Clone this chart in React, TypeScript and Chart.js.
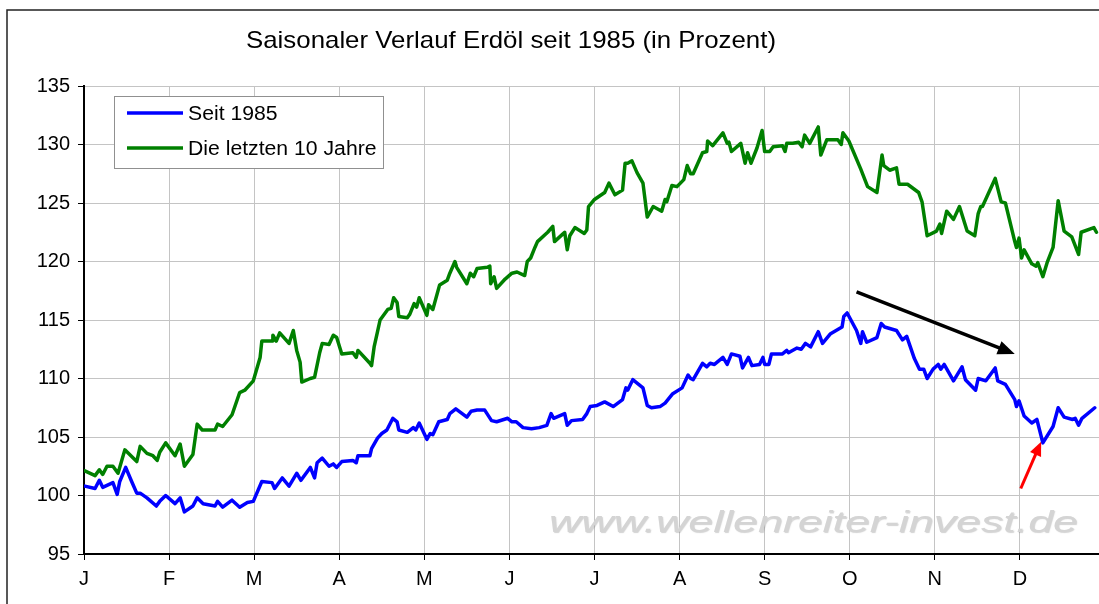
import React, { useEffect, useRef } from 'react';
import { Chart, registerables } from 'chart.js';

Chart.register(...registerables);

const chartTitle = 'Saisonaler Verlauf Erdöl seit 1985 (in Prozent)';
const watermarkText = 'www.wellenreiter-invest.de';
const monthLabels = ['J', 'F', 'M', 'A', 'M', 'J', 'J', 'A', 'S', 'O', 'N', 'D'];
const seriesNames = ['Seit 1985', 'Die letzten 10 Jahre'];
const yMin = 95;
const yMax = 135;
const yStep = 5;
const xMax = 11.93;

// x positions in months since 1 January, values in percent
const blueMonths = [
  0.01, 0.13, 0.18, 0.22, 0.34, 0.39, 0.42, 0.49, 0.56, 0.62, 0.66, 0.74, 0.85, 0.89, 0.96,
  1.07, 1.13, 1.18, 1.28, 1.33, 1.40, 1.54, 1.57, 1.63, 1.74, 1.83, 1.92, 1.99,
  2.09, 2.21, 2.24, 2.33, 2.41, 2.50, 2.55, 2.66, 2.71, 2.74, 2.80, 2.88, 2.93, 2.97,
  3.03, 3.16, 3.20, 3.22, 3.36, 3.38, 3.45, 3.50, 3.56, 3.63, 3.68, 3.70, 3.80, 3.87, 3.90, 3.94,
  4.03, 4.07, 4.10, 4.17, 4.27, 4.30, 4.37, 4.50, 4.55, 4.62, 4.71, 4.79, 4.85, 4.98,
  5.03, 5.08, 5.16, 5.26, 5.35, 5.44, 5.49, 5.52, 5.65, 5.68, 5.73, 5.86, 5.91, 5.95,
  6.03, 6.12, 6.22, 6.33, 6.37, 6.39, 6.45, 6.57, 6.62, 6.67, 6.77, 6.83, 6.92,
  7.03, 7.10, 7.13, 7.16, 7.27, 7.32, 7.36, 7.41, 7.51, 7.56, 7.61, 7.71, 7.74, 7.81, 7.85, 7.94, 7.98,
  8.00, 8.05, 8.08, 8.21, 8.26, 8.28, 8.38, 8.43, 8.48, 8.54, 8.63, 8.68, 8.77, 8.91, 8.93, 8.97,
  9.08, 9.13, 9.15, 9.20, 9.32, 9.37, 9.41, 9.55, 9.62, 9.67, 9.76, 9.82, 9.87, 9.91, 9.98,
  10.04, 10.07, 10.11, 10.22, 10.32, 10.36, 10.48, 10.51, 10.60, 10.71, 10.74, 10.83, 10.94, 10.96, 10.99,
  11.05, 11.14, 11.20, 11.27, 11.39, 11.45, 11.52, 11.62, 11.65, 11.69, 11.73, 11.88,
];
const blueValues = [
  100.8, 100.6, 101.3, 100.7, 101.1, 100.1, 101.2, 102.4, 101.2, 100.2, 100.2, 99.8, 99.1, 99.5, 100.0,
  99.3, 99.8, 98.6, 99.1, 99.8, 99.3, 99.1, 99.5, 99.0, 99.6, 99.0, 99.4, 99.5,
  101.2, 101.1, 100.6, 101.5, 100.8, 101.9, 101.3, 102.4, 101.5, 102.8, 103.2, 102.5, 102.7, 102.4,
  102.9, 103.0, 102.8, 103.4, 103.4, 104.0, 104.9, 105.3, 105.6, 106.6, 106.3, 105.6, 105.4, 105.8, 105.6, 106.2,
  104.8, 105.3, 105.2, 106.3, 106.5, 107.0, 107.4, 106.7, 107.2, 107.3, 107.3, 106.4, 106.3, 106.6,
  106.3, 106.3, 105.8, 105.7, 105.8, 106.0, 107.0, 106.6, 107.0, 106.0, 106.4, 106.5, 107.0, 107.6,
  107.7, 108.0, 107.6, 108.2, 109.2, 109.0, 109.9, 109.2, 107.7, 107.5, 107.6, 107.9, 108.7,
  109.2, 110.3, 110.0, 109.9, 111.3, 111.0, 111.3, 111.2, 111.8, 111.2, 112.1, 111.9, 110.9, 111.8, 111.1, 111.2, 111.8,
  111.2, 111.2, 112.1, 112.1, 112.4, 112.2, 112.6, 112.5, 113.0, 112.7, 114.0, 113.0, 113.8, 114.4, 115.3, 115.6,
  114.1, 113.0, 114.0, 113.1, 113.5, 114.7, 114.4, 114.1, 113.3, 113.6, 111.7, 110.8, 110.8, 110.0, 110.8,
  111.2, 110.8, 111.2, 109.8, 111.0, 109.9, 109.0, 110.0, 109.8, 110.9, 109.8, 109.5, 108.2, 107.6, 108.1,
  106.8, 106.2, 106.5, 104.5, 105.9, 107.5, 106.7, 106.5, 106.6, 106.0, 106.6, 107.5,
];

const greenMonths = [
  0.01, 0.13, 0.18, 0.22, 0.27, 0.34, 0.40, 0.48, 0.62, 0.66, 0.74, 0.81, 0.86, 0.89, 0.96,
  1.07, 1.13, 1.18, 1.28, 1.33, 1.39, 1.54, 1.57, 1.63, 1.74, 1.83, 1.89, 1.99,
  2.07, 2.09, 2.21, 2.22, 2.26, 2.30, 2.41, 2.46, 2.50, 2.54, 2.56, 2.66, 2.71, 2.77, 2.80, 2.88, 2.93, 2.97,
  3.03, 3.16, 3.20, 3.22, 3.36, 3.38, 3.41, 3.45, 3.48, 3.57, 3.61, 3.64, 3.68, 3.70, 3.80, 3.83, 3.88, 3.91, 3.94,
  4.03, 4.05, 4.10, 4.18, 4.27, 4.30, 4.36, 4.38, 4.50, 4.54, 4.58, 4.62, 4.74, 4.77, 4.78, 4.82, 4.85, 4.95,
  5.03, 5.09, 5.18, 5.21, 5.25, 5.30, 5.33, 5.45, 5.51, 5.53, 5.62, 5.65, 5.68, 5.71, 5.77, 5.88, 5.91, 5.93,
  6.00, 6.12, 6.17, 6.24, 6.33, 6.36, 6.39, 6.44, 6.50, 6.57, 6.62, 6.69, 6.79, 6.83, 6.85, 6.91, 6.97,
  7.05, 7.09, 7.13, 7.16, 7.27, 7.32, 7.33, 7.39, 7.51, 7.56, 7.58, 7.61, 7.72, 7.77, 7.80, 7.84, 7.91, 7.97,
  8.00, 8.06, 8.10, 8.21, 8.24, 8.26, 8.33, 8.40, 8.44, 8.47, 8.53, 8.63, 8.66, 8.73, 8.86, 8.90, 8.92, 8.99,
  9.13, 9.21, 9.32, 9.38, 9.40, 9.47, 9.55, 9.58, 9.68, 9.81, 9.85, 9.91,
  10.02, 10.06, 10.08, 10.14, 10.22, 10.29, 10.38, 10.47, 10.51, 10.54, 10.56, 10.71, 10.78, 10.83, 10.94, 10.96, 10.99,
  11.02, 11.05, 11.14, 11.19, 11.21, 11.27, 11.32, 11.39, 11.45, 11.52, 11.61, 11.69, 11.72, 11.87, 11.90,
];
const greenValues = [
  102.1, 101.7, 102.2, 101.8, 102.5, 102.5, 101.9, 103.9, 102.9, 104.2, 103.6, 103.4, 103.0, 103.7, 104.5,
  103.4, 104.4, 102.5, 103.5, 106.1, 105.6, 105.6, 106.1, 105.9, 106.9, 108.8, 109.0, 109.8,
  111.8, 113.2, 113.2, 113.7, 113.2, 113.9, 113.0, 114.1, 112.4, 111.4, 109.7, 110.0, 110.1, 112.2, 113.0, 112.9, 113.7, 113.5,
  112.1, 112.2, 111.8, 112.4, 111.3, 111.1, 112.7, 114.0, 115.0, 115.9, 116.0, 116.9, 116.5, 115.3, 115.2, 115.5, 116.4, 116.1, 116.9,
  115.4, 116.3, 115.9, 118.0, 118.4, 119.0, 120.0, 119.5, 118.1, 119.0, 118.7, 119.4, 119.5, 119.6, 118.1, 118.7, 117.7, 118.5,
  119.0, 119.1, 118.8, 120.0, 120.3, 121.2, 121.7, 122.5, 123.0, 121.7, 122.3, 122.5, 121.0, 122.2, 122.9, 122.4, 122.7, 124.7,
  125.3, 125.9, 126.7, 125.7, 126.1, 128.4, 128.4, 128.6, 127.6, 126.7, 123.8, 124.7, 124.3, 125.3, 125.1, 126.5, 126.4,
  127.0, 128.2, 127.5, 127.5, 129.3, 129.4, 130.3, 129.9, 131.0, 130.1, 130.2, 129.4, 130.1, 128.4, 129.3, 128.4, 129.7, 131.2,
  129.4, 129.4, 129.8, 129.9, 129.4, 130.1, 130.1, 130.2, 129.8, 130.8, 130.1, 131.5, 129.1, 130.4, 130.4, 130.0, 131.0, 130.3,
  127.9, 126.4, 125.9, 129.1, 128.2, 127.8, 128.0, 126.6, 126.6, 125.9, 125.1, 122.2,
  122.6, 123.2, 122.4, 124.3, 123.6, 124.7, 122.6, 122.2, 124.1, 124.7, 124.7, 127.1, 125.1, 125.0, 121.7, 121.2, 122.0,
  120.3, 121.0, 119.8, 119.6, 119.9, 118.7, 119.9, 121.2, 125.2, 122.6, 122.1, 120.6, 122.5, 122.9, 122.5,
];

// annotation arrows, in data units (month, percent)
const trendArrowFrom = [9.08, 117.4];
const trendArrowTo = [10.94, 112.1];
const lowArrowFrom = [11.01, 100.6];
const lowArrowTo = [11.25, 104.6];

const FONT = '"Liberation Sans", Arial, sans-serif';
const BLUE = 'rgb(0,0,255)';
const GREEN = 'rgb(0,128,0)';

function drawArrow(ctx: CanvasRenderingContext2D, x1: number, y1: number, x2: number, y2: number,
  color: string, width: number, headLen: number, headHalf: number) {
  const ang = Math.atan2(y2 - y1, x2 - x1);
  const bx = x2 - headLen * Math.cos(ang);
  const by = y2 - headLen * Math.sin(ang);
  ctx.save();
  ctx.strokeStyle = color;
  ctx.fillStyle = color;
  ctx.lineWidth = width;
  ctx.lineCap = 'butt';
  ctx.beginPath();
  ctx.moveTo(x1, y1);
  ctx.lineTo(bx + Math.cos(ang), by + Math.sin(ang));
  ctx.stroke();
  ctx.beginPath();
  ctx.moveTo(x2, y2);
  ctx.lineTo(bx + headHalf * Math.sin(ang), by - headHalf * Math.cos(ang));
  ctx.lineTo(bx - headHalf * Math.sin(ang), by + headHalf * Math.cos(ang));
  ctx.closePath();
  ctx.fill();
  ctx.restore();
}

function stretchedText(ctx: CanvasRenderingContext2D, text: string, x: number, y: number, targetWidth: number) {
  const w = ctx.measureText(text).width;
  ctx.save();
  ctx.translate(x, y);
  ctx.scale(targetWidth / w, 1);
  ctx.fillText(text, 0, 0);
  ctx.restore();
}

const decorPlugin = {
  id: 'decor',
  beforeDraw(chart: any) {
    const ctx = chart.ctx as CanvasRenderingContext2D;
    ctx.save();
    ctx.fillStyle = '#ffffff';
    ctx.fillRect(0, 0, chart.width, chart.height);
    // outer frame
    ctx.strokeStyle = '#222';
    ctx.lineWidth = 1.5;
    ctx.strokeRect(7, 10, chart.width + 20, chart.height + 20);
    // title
    ctx.fillStyle = '#000';
    ctx.font = `24px ${FONT}`;
    ctx.textBaseline = 'alphabetic';
    ctx.textAlign = 'left';
    stretchedText(ctx, chartTitle, 246, 48, 530);
    ctx.restore();
  },
  beforeDatasetsDraw(chart: any) {
    const ctx = chart.ctx as CanvasRenderingContext2D;
    ctx.save();
    ctx.font = `italic 29px ${FONT}`;
    ctx.textBaseline = 'alphabetic';
    ctx.textAlign = 'left';
    ctx.shadowColor = 'rgba(130,130,130,0.35)';
    ctx.shadowOffsetX = 1;
    ctx.shadowOffsetY = 1;
    ctx.shadowBlur = 1;
    ctx.fillStyle = 'rgb(212,212,212)';
    stretchedText(ctx, watermarkText, 549, 532, 529);
    ctx.restore();
  },
  afterDraw(chart: any) {
    const ctx = chart.ctx as CanvasRenderingContext2D;
    const xs = chart.scales.x;
    const ys = chart.scales.y;
    // legend
    ctx.save();
    ctx.fillStyle = '#fff';
    ctx.strokeStyle = '#909090';
    ctx.lineWidth = 1;
    ctx.fillRect(114.5, 96.5, 269, 72);
    ctx.strokeRect(114.5, 96.5, 269, 72);
    const rows = [113, 148];
    chart.data.datasets.forEach((ds: any, i: number) => {
      ctx.strokeStyle = ds.borderColor;
      ctx.lineWidth = 3.5;
      ctx.beginPath();
      ctx.moveTo(127, rows[i]);
      ctx.lineTo(183, rows[i]);
      ctx.stroke();
      ctx.fillStyle = '#000';
      ctx.font = `20px ${FONT}`;
      ctx.textBaseline = 'middle';
      ctx.textAlign = 'left';
      const w = ctx.measureText(ds.label).width;
      stretchedText(ctx, ds.label, 188, rows[i] + 1, w * 1.06);
    });
    ctx.restore();
    // arrows
    drawArrow(ctx, xs.getPixelForValue(trendArrowFrom[0]), ys.getPixelForValue(trendArrowFrom[1]),
      xs.getPixelForValue(trendArrowTo[0]), ys.getPixelForValue(trendArrowTo[1]), '#000', 3.5, 17, 7);
    drawArrow(ctx, xs.getPixelForValue(lowArrowFrom[0]), ys.getPixelForValue(lowArrowFrom[1]),
      xs.getPixelForValue(lowArrowTo[0]), ys.getPixelForValue(lowArrowTo[1]), 'rgb(255,0,0)', 3, 14, 6);
  },
};

export default function App() {
  const canvasRef = useRef<HTMLCanvasElement | null>(null);

  useEffect(() => {
    const canvas = canvasRef.current;
    if (!canvas) return;
    const blueData = blueMonths.map((m, i) => ({ x: m, y: blueValues[i] }));
    const greenData = greenMonths.map((m, i) => ({ x: m, y: greenValues[i] }));
    const chart = new Chart(canvas, {
      type: 'line',
      data: {
        datasets: [
          {
            label: seriesNames[0], data: blueData, borderColor: BLUE, backgroundColor: BLUE,
            borderWidth: 3.5, pointRadius: 0, tension: 0, borderJoinStyle: 'round', borderCapStyle: 'round',
          },
          {
            label: seriesNames[1], data: greenData, borderColor: GREEN, backgroundColor: GREEN,
            borderWidth: 3.5, pointRadius: 0, tension: 0, borderJoinStyle: 'round', borderCapStyle: 'round',
          },
        ],
      },
      options: {
        animation: false,
        responsive: false,
        devicePixelRatio: 1,
        layout: { padding: { top: 86, left: 0, right: 0, bottom: 0 } },
        plugins: { legend: { display: false }, title: { display: false }, tooltip: { enabled: false } },
        scales: {
          x: {
            type: 'linear',
            min: 0,
            max: xMax,
            afterFit: (scale: any) => { scale.height = 50; },
            afterBuildTicks: (scale: any) => { scale.ticks = monthLabels.map((_, i) => ({ value: i })); },
            ticks: {
              callback: (v: any) => monthLabels[Math.round(Number(v))] ?? '',
              color: '#000',
              font: { family: FONT, size: 20 },
              padding: 7,
              maxRotation: 0,
              autoSkip: false,
            },
            grid: { color: '#c4c4c4', lineWidth: 1, tickColor: '#000', tickLength: 6 },
            border: { color: '#000', width: 2 },
          },
          y: {
            type: 'linear',
            min: yMin,
            max: yMax,
            afterFit: (scale: any) => { scale.width = 84; },
            ticks: {
              stepSize: yStep,
              color: '#000',
              font: { family: FONT, size: 20 },
              padding: 8,
            },
            grid: { color: '#c4c4c4', lineWidth: 1, tickColor: '#000', tickLength: 6 },
            border: { color: '#000', width: 2 },
          },
        },
      },
      plugins: [decorPlugin],
    });
    return () => chart.destroy();
  }, []);

  return (
    <div style={{ position: 'fixed', left: 0, top: 0, width: 1099, height: 604, overflow: 'hidden', background: '#fff' }}>
      <canvas ref={canvasRef} width={1099} height={604} style={{ display: 'block', width: 1099, height: 604 }} />
    </div>
  );
}
